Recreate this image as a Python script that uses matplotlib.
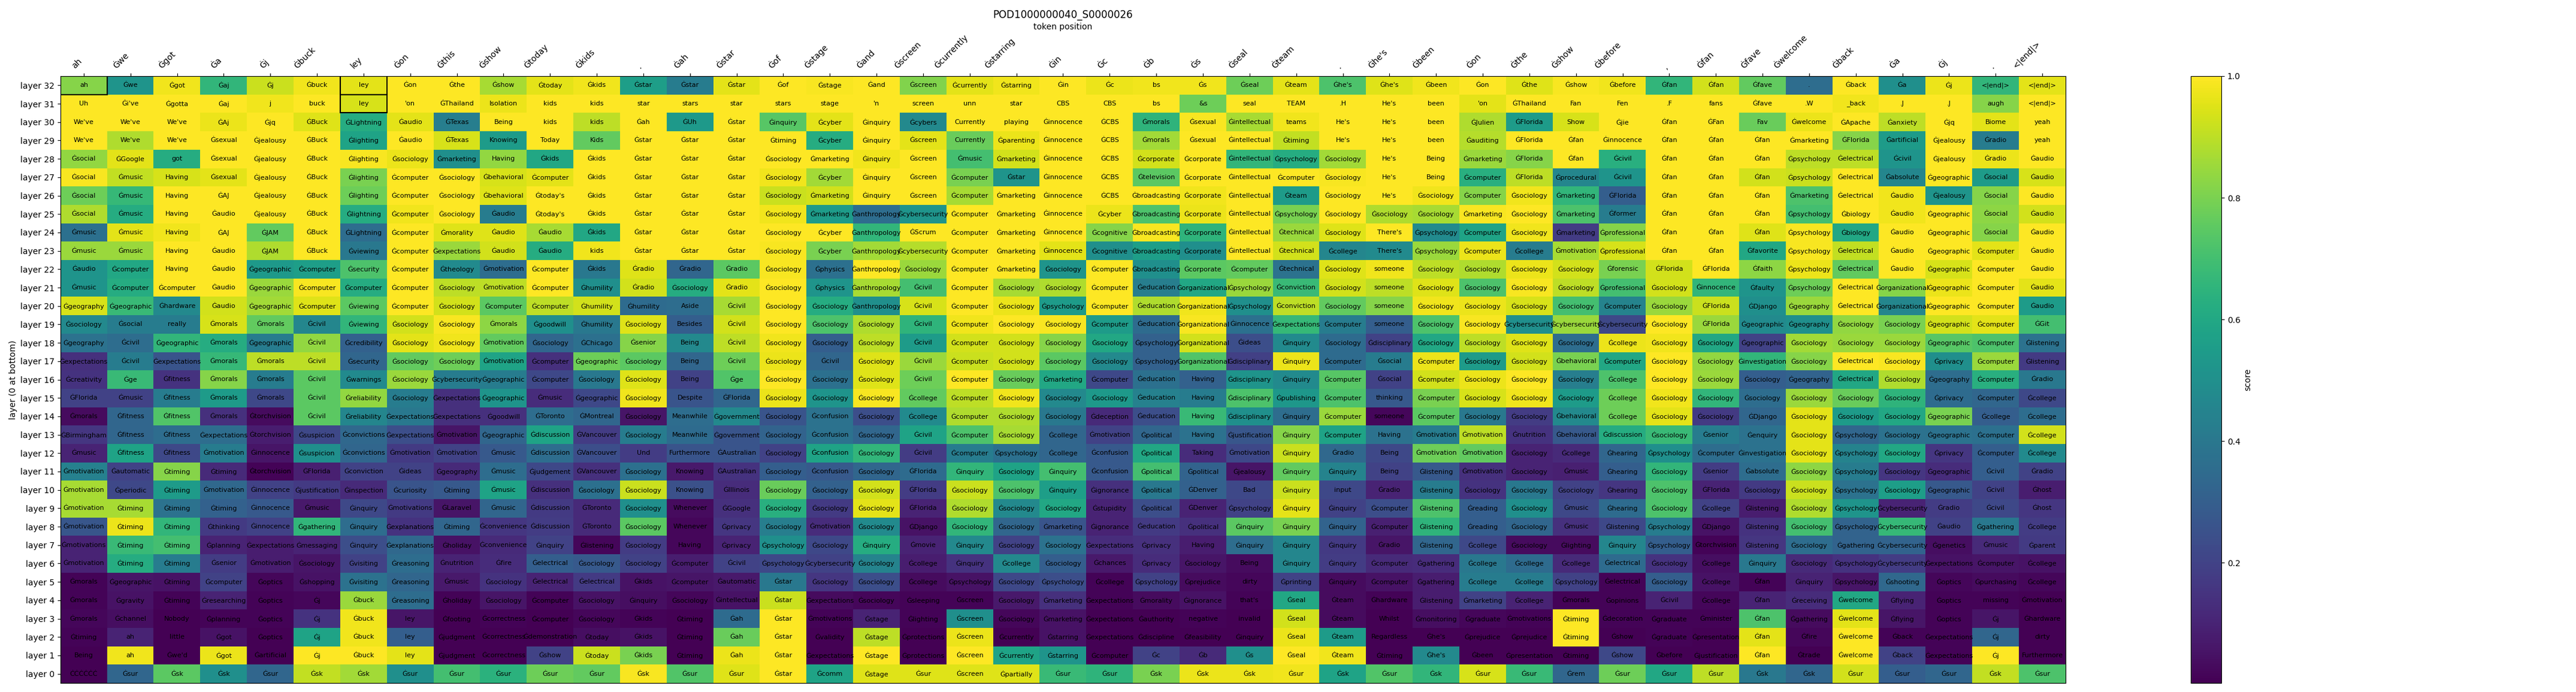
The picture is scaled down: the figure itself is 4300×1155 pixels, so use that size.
"""
Layer-by-layer token lens heatmap for one sample.

Usage:
    python plot.py
"""

import numpy as np
import matplotlib
matplotlib.use("Agg")
import matplotlib.pyplot as plt
from matplotlib.colors import Normalize
from matplotlib.patches import Rectangle

TITLE = "POD1000000040_S0000026"

INPUT_TOKENS = "ah Ġwe Ġgot Ġa Ġj Ġbuck ley Ġon Ġthis Ġshow Ġtoday Ġkids . Ġah Ġstar Ġof Ġstage Ġand Ġscreen Ġcurrently Ġstarring Ġin Ġc Ġb Ġs Ġseal Ġteam . Ġhe's Ġbeen Ġon Ġthe Ġshow Ġbefore , Ġfan Ġfave Ġwelcome Ġback Ġa Ġj . <|end|>".split()

# top token per layer, listed from layer 32 down to layer 0
TOKENS_TOP_DOWN = [
    "ah Ġwe Ġgot Ġaj Ġj Ġbuck ley Ġon Ġthe Ġshow Ġtoday Ġkids Ġstar Ġstar Ġstar Ġof Ġstage Ġand Ġscreen Ġcurrently Ġstarring Ġin Ġc bs Ġs Ġseal Ġteam Ġhe's Ġhe's Ġbeen Ġon Ġthe Ġshow Ġbefore Ġfan Ġfan Ġfave . Ġback Ġa Ġj <|end|> <|end|>",
    "Uh Ġi've Ġgotta Ġaj j buck ley 'on ĠThailand Isolation kids kids star stars star stars stage 'n screen unn star CBS CBS bs &s seal TEAM .H He's been 'on ĠThailand Fan Fen .F fans Ġfave .W _back .J .J augh <|end|>",
    "We've We've We've ĠAj Ġjq ĠBuck ĠLightning Ġaudio ĠTexas Being kids kids Ġah ĠUh Ġstar Ġinquiry Ġcyber Ġinquiry Ġcybers Currently playing Ġinnocence ĠCBS Ġmorals Ġsexual Ġintellectual teams He's He's been ĠJulien ĠFlorida Show Ġjie Ġfan ĠFan Fav Ġwelcome ĠApache Ġanxiety Ġjq Biome yeah",
    "We've We've We've Ġsexual Ġjealousy ĠBuck Ġlighting Ġaudio ĠTexas Knowing Today Kids Ġstar Ġstar Ġstar Ġtiming Ġcyber Ġinquiry Ġscreen Currently Ġparenting Ġinnocence ĠCBS Ġmorals Ġsexual Ġintellectual Ġtiming He's He's been Ġauditing ĠFlorida Ġfan Ġinnocence Ġfan Ġfan Ġfan Ġmarketing ĠFlorida Ġartificial Ġjealousy Ġradio yeah",
    "Ġsocial ĠGoogle got Ġsexual Ġjealousy ĠBuck Ġlighting Ġsociology Ġmarketing Having Ġkids Ġkids Ġstar Ġstar Ġstar Ġsociology Ġmarketing Ġinquiry Ġscreen Ġmusic Ġmarketing Ġinnocence ĠCBS Ġcorporate Ġcorporate Ġintellectual Ġpsychology Ġsociology He's Being Ġmarketing ĠFlorida Ġfan Ġcivil Ġfan Ġfan Ġfan Ġpsychology Ġelectrical Ġcivil Ġjealousy Ġradio Ġaudio",
    "Ġsocial Ġmusic Having Ġsexual Ġjealousy ĠBuck Ġlighting Ġcomputer Ġsociology Ġbehavioral Ġcomputer Ġkids Ġstar Ġstar Ġstar Ġsociology Ġcyber Ġinquiry Ġscreen Ġcomputer Ġstar Ġinnocence ĠCBS Ġtelevision Ġcorporate Ġintellectual Ġcomputer Ġsociology He's Being Ġcomputer ĠFlorida Ġprocedural Ġcivil Ġfan Ġfan Ġfan Ġpsychology Ġelectrical Ġabsolute Ġgeographic Ġsocial Ġaudio",
    "Ġsocial Ġmusic Having ĠAJ Ġjealousy ĠBuck Ġlighting Ġcomputer Ġsociology Ġbehavioral Ġtoday's Ġkids Ġstar Ġstar Ġstar Ġsociology Ġmarketing Ġinquiry Ġscreen Ġcomputer Ġmarketing Ġinnocence ĠCBS Ġbroadcasting Ġcorporate Ġintellectual Ġteam Ġsociology He's Ġsociology Ġcomputer Ġsociology Ġmarketing ĠFlorida Ġfan Ġfan Ġfan Ġmarketing Ġelectrical Ġaudio Ġjealousy Ġsocial Ġaudio",
    "Ġsocial Ġmusic Having Ġaudio Ġjealousy ĠBuck Ġlightning Ġcomputer Ġsociology Ġaudio Ġtoday's Ġkids Ġstar Ġstar Ġstar Ġsociology Ġmarketing Ġanthropology Ġcybersecurity Ġcomputer Ġmarketing Ġinnocence Ġcyber Ġbroadcasting Ġcorporate Ġintellectual Ġpsychology Ġsociology Ġsociology Ġsociology Ġmarketing Ġsociology Ġmarketing Ġformer Ġfan Ġfan Ġfan Ġpsychology Ġbiology Ġaudio Ġgeographic Ġsocial Ġaudio",
    "Ġmusic Ġmusic Having ĠAJ ĠJAM ĠBuck ĠLightning Ġcomputer Ġmorality Ġaudio Ġaudio Ġkids Ġstar Ġstar Ġstar Ġsociology Ġcyber Ġanthropology ĠScrum Ġcomputer Ġmarketing Ġinnocence Ġcognitive Ġbroadcasting Ġcorporate Ġintellectual Ġtechnical Ġsociology There's Ġpsychology Ġcomputer Ġsociology Ġmarketing Ġprofessional Ġfan Ġfan Ġfan Ġpsychology Ġbiology Ġaudio Ġgeographic Ġsocial Ġaudio",
    "Ġmusic Ġmusic Having Ġaudio ĠJAM ĠBuck Ġviewing Ġcomputer Ġexpectations Ġaudio Ġaudio kids Ġstar Ġstar Ġstar Ġsociology Ġcyber Ġanthropology Ġcybersecurity Ġcomputer Ġmarketing Ġinnocence Ġcognitive Ġbroadcasting Ġcorporate Ġintellectual Ġtechnical Ġcollege There's Ġpsychology Ġcomputer Ġcollege Ġmotivation Ġprofessional Ġfan Ġfan Ġfavorite Ġpsychology Ġelectrical Ġaudio Ġgeographic Ġcomputer Ġaudio",
    "Ġaudio Ġcomputer Having Ġaudio Ġgeographic Ġcomputer Ġsecurity Ġcomputer Ġtheology Ġmotivation Ġcomputer Ġkids Ġradio Ġradio Ġradio Ġsociology Ġphysics Ġanthropology Ġsociology Ġcomputer Ġmarketing Ġsociology Ġcomputer Ġbroadcasting Ġcorporate Ġcomputer Ġtechnical Ġsociology someone Ġsociology Ġsociology Ġsociology Ġsociology Ġforensic ĠFlorida ĠFlorida Ġfaith Ġpsychology Ġelectrical Ġaudio Ġgeographic Ġcomputer Ġaudio",
    "Ġmusic Ġcomputer Ġcomputer Ġaudio Ġgeographic Ġcomputer Ġcomputer Ġcomputer Ġsociology Ġmotivation Ġcomputer Ġhumility Ġradio Ġsociology Ġradio Ġsociology Ġphysics Ġanthropology Ġcivil Ġcomputer Ġsociology Ġsociology Ġcomputer Ġeducation Ġorganizational Ġpsychology Ġconviction Ġsociology someone Ġsociology Ġsociology Ġsociology Ġsociology Ġprofessional Ġsociology Ġinnocence Ġfaulty Ġpsychology Ġelectrical Ġorganizational Ġgeographic Ġcomputer Ġaudio",
    "Ġgeography Ġgeographic Ġhardware Ġaudio Ġgeographic Ġcomputer Ġviewing Ġcomputer Ġsociology Ġcomputer Ġcomputer Ġhumility Ġhumility Aside Ġcivil Ġsociology Ġsociology Ġanthropology Ġcivil Ġcomputer Ġsociology Ġpsychology Ġcomputer Ġeducation Ġorganizational Ġpsychology Ġconviction Ġsociology someone Ġsociology Ġsociology Ġsociology Ġsociology Ġcomputer Ġsociology ĠFlorida ĠDjango Ġgeography Ġelectrical Ġorganizational Ġgeographic Ġcomputer Ġaudio",
    "Ġsociology Ġsocial really Ġmorals Ġmorals Ġcivil Ġviewing Ġsociology Ġsociology Ġmorals Ġgoodwill Ġhumility Ġsociology Besides Ġcivil Ġsociology Ġsociology Ġsociology Ġcivil Ġcomputer Ġsociology Ġsociology Ġcomputer Ġeducation Ġorganizational Ġinnocence Ġexpectations Ġcomputer someone Ġsociology Ġsociology Ġcybersecurity Ġcybersecurity Ġcybersecurity Ġsociology ĠFlorida Ġgeographic Ġgeography Ġsociology Ġsociology Ġgeographic Ġcomputer ĠGit",
    "Ġgeography Ġcivil Ġgeographic Ġmorals Ġgeographic Ġcivil Ġcredibility Ġsociology Ġsociology Ġmotivation Ġsociology ĠChicago Ġsenior Being Ġcivil Ġsociology Ġsociology Ġsociology Ġcivil Ġcomputer Ġsociology Ġsociology Ġsociology Ġpsychology Ġorganizational Ġideas Ġinquiry Ġsociology Ġdisciplinary Ġsociology Ġsociology Ġsociology Ġsociology Ġcollege Ġsociology Ġsociology Ġgeographic Ġsociology Ġsociology Ġsociology Ġgeographic Ġcomputer Ġlistening",
    "Ġexpectations Ġcivil Ġexpectations Ġmorals Ġmorals Ġcivil Ġsecurity Ġsociology Ġsociology Ġmotivation Ġcomputer Ġgeographic Ġsociology Being Ġcivil Ġsociology Ġcivil Ġsociology Ġcivil Ġcomputer Ġsociology Ġsociology Ġsociology Ġpsychology Ġorganizational Ġdisciplinary Ġinquiry Ġcomputer Ġsocial Ġcomputer Ġsociology Ġsociology Ġbehavioral Ġcomputer Ġsociology Ġsociology Ġinvestigation Ġsociology Ġelectrical Ġsociology Ġprivacy Ġcomputer Ġlistening",
    "Ġcreativity Ġge Ġfitness Ġmorals Ġmorals Ġcivil Ġwarnings Ġsociology Ġcybersecurity Ġgeographic Ġcomputer Ġsociology Ġsociology Being Ġge Ġsociology Ġsociology Ġsociology Ġcivil Ġcomputer Ġsociology Ġmarketing Ġcomputer Ġeducation Having Ġdisciplinary Ġinquiry Ġcomputer Ġsocial Ġcomputer Ġsociology Ġsociology Ġsociology Ġcollege Ġsociology Ġsociology Ġsociology Ġgeography Ġelectrical Ġsociology Ġgeography Ġcomputer Ġradio",
    "ĠFlorida Ġmusic Ġfitness Ġmorals Ġmorals Ġcivil Ġreliability Ġsociology Ġexpectations Ġgeographic Ġmusic Ġgeographic Ġsociology Despite ĠFlorida Ġsociology Ġsociology Ġsociology Ġcollege Ġcomputer Ġsociology Ġsociology Ġsociology Ġeducation Having Ġdisciplinary Ġpublishing Ġcomputer thinking Ġcomputer Ġsociology Ġsociology Ġsociology Ġcollege Ġsociology Ġsociology Ġsociology Ġsociology Ġsociology Ġsociology Ġprivacy Ġcomputer Ġcollege",
    "Ġmorals Ġfitness Ġfitness Ġmorals Ġtorchvision Ġcivil Ġreliability Ġexpectations Ġexpectations Ġgoodwill ĠToronto ĠMontreal Ġsociology Meanwhile Ġgovernment Ġsociology Ġconfusion Ġsociology Ġcollege Ġcomputer Ġsociology Ġsociology Ġdeception Ġeducation Having Ġdisciplinary Ġinquiry Ġcomputer someone Ġcomputer Ġsociology Ġsociology Ġbehavioral Ġcollege Ġsociology Ġsociology ĠDjango Ġsociology Ġsociology Ġsociology Ġgeographic Ġcollege Ġcollege",
    "ĠBirmingham Ġfitness Ġfitness Ġexpectations Ġtorchvision Ġsuspicion Ġconvictions Ġexpectations Ġmotivation Ġgeographic Ġdiscussion ĠVancouver Ġsociology Meanwhile Ġgovernment Ġsociology Ġconfusion Ġsociology Ġcivil Ġcomputer Ġsociology Ġcollege Ġmotivation Ġpolitical Having Ġjustification Ġinquiry Ġcomputer Having Ġmotivation Ġmotivation Ġnutrition Ġbehavioral Ġdiscussion Ġsociology Ġsenior Ġenquiry Ġsociology Ġpsychology Ġsociology Ġgeographic Ġcomputer Ġcollege",
    "Ġmusic Ġfitness Ġfitness Ġmotivation Ġinnocence Ġsuspicion Ġconvictions Ġmotivation Ġmotivation Ġmusic Ġdiscussion ĠVancouver Und Furthermore ĠAustralian Ġsociology Ġconfusion Ġsociology Ġcivil Ġcomputer Ġpsychology Ġcollege Ġconfusion Ġpolitical Taking Ġmotivation Ġinquiry Ġradio Being Ġmotivation Ġmotivation Ġsociology Ġcollege Ġhearing Ġpsychology Ġcomputer Ġinvestigation Ġsociology Ġpsychology Ġsociology Ġprivacy Ġcomputer Ġcollege",
    "Ġmotivation Ġautomatic Ġtiming Ġtiming Ġtorchvision ĠFlorida Ġconviction Ġideas Ġgeography Ġmusic Ġjudgement ĠVancouver Ġsociology Knowing ĠAustralian Ġsociology Ġconfusion Ġsociology ĠFlorida Ġinquiry Ġsociology Ġinquiry Ġconfusion Ġpolitical Ġpolitical Ġjealousy Ġinquiry Ġinquiry Being Ġlistening Ġmotivation Ġsociology Ġmusic Ġhearing Ġsociology Ġsenior Ġabsolute Ġsociology Ġpsychology Ġsociology Ġgeographic Ġcivil Ġradio",
    "Ġmotivation Ġperiodic Ġtiming Ġmotivation Ġinnocence Ġjustification Ġinspection Ġcuriosity Ġtiming Ġmusic Ġdiscussion Ġsociology Ġsociology Knowing ĠIllinois Ġsociology Ġsociology Ġsociology ĠFlorida Ġsociology Ġsociology Ġinquiry Ġignorance Ġpolitical ĠDenver Bad Ġinquiry input Ġradio Ġlistening Ġsociology Ġsociology Ġsociology Ġhearing Ġsociology ĠFlorida Ġsociology Ġsociology Ġpsychology Ġsociology Ġgeographic Ġcivil Ġhost",
    "Ġmotivation Ġtiming Ġtiming Ġtiming Ġinnocence Ġmusic Ġinquiry Ġmotivations ĠLaravel Ġmusic Ġdiscussion ĠToronto Ġsociology Whenever ĠGoogle Ġsociology Ġsociology Ġsociology ĠFlorida Ġsociology Ġsociology Ġsociology Ġstupidity Ġpolitical ĠDenver Ġpsychology Ġinquiry Ġinquiry Ġcomputer Ġlistening Ġreading Ġsociology Ġmusic Ġhearing Ġsociology Ġcollege Ġlistening Ġsociology Ġpsychology Ġcybersecurity Ġradio Ġcivil Ġhost",
    "Ġmotivation Ġtiming Ġtiming Ġthinking Ġinnocence Ġgathering Ġinquiry Ġexplanations Ġtiming Ġconvenience Ġdiscussion ĠToronto Ġsociology Whenever Ġprivacy Ġsociology Ġmotivation Ġsociology ĠDjango Ġsociology Ġsociology Ġmarketing Ġignorance Ġeducation Ġpolitical Ġinquiry Ġinquiry Ġinquiry Ġcomputer Ġlistening Ġreading Ġsociology Ġmusic Ġlistening Ġpsychology ĠDjango Ġlistening Ġsociology Ġpsychology Ġcybersecurity Ġaudio Ġgathering Ġcollege",
    "Ġmotivations Ġtiming Ġtiming Ġplanning Ġexpectations Ġmessaging Ġinquiry Ġexplanations Ġholiday Ġconvenience Ġinquiry Ġlistening Ġsociology Having Ġprivacy Ġpsychology Ġsociology Ġinquiry Ġmovie Ġinquiry Ġsociology Ġsociology Ġexpectations Ġprivacy Having Ġinquiry Ġinquiry Ġinquiry Ġradio Ġlistening Ġcollege Ġsociology Ġlighting Ġinquiry Ġpsychology Ġtorchvision Ġlistening Ġsociology Ġgathering Ġcybersecurity Ġgenetics Ġmusic Ġparent",
    "Ġmotivation Ġtiming Ġtiming Ġsenior Ġmotivation Ġsociology Ġvisiting Ġreasoning Ġnutrition Ġfire Ġelectrical Ġsociology Ġsociology Ġcomputer Ġcivil Ġpsychology Ġcybersecurity Ġsociology Ġcollege Ġinquiry Ġcollege Ġsociology Ġchances Ġprivacy Ġsociology Being Ġinquiry Ġinquiry Ġcomputer Ġgathering Ġcollege Ġcollege Ġcollege Ġelectrical Ġsociology Ġcollege Ġinquiry Ġsociology Ġpsychology Ġcybersecurity Ġexpectations Ġcomputer Ġcollege",
    "Ġmorals Ġgeographic Ġtiming Ġcomputer Ġoptics Ġshopping Ġvisiting Ġreasoning Ġmusic Ġsociology Ġelectrical Ġelectrical Ġkids Ġcomputer Ġautomatic Ġstar Ġsociology Ġsociology Ġcollege Ġpsychology Ġsociology Ġpsychology Ġcollege Ġpsychology Ġprejudice dirty Ġprinting Ġinquiry Ġcomputer Ġgathering Ġcollege Ġcollege Ġpsychology Ġelectrical Ġsociology Ġcollege Ġfan Ġinquiry Ġpsychology Ġshooting Ġoptics Ġpurchasing Ġcollege",
    "Ġmorals Ġgravity Ġtiming Ġresearching Ġoptics Ġj Ġbuck Ġreasoning Ġholiday Ġsociology Ġcomputer Ġsociology Ġinquiry Ġsociology Ġintellectual Ġstar Ġexpectations Ġsociology Ġsleeping Ġscreen Ġsociology Ġmarketing Ġexpectations Ġmorality Ġignorance that's Ġseal Ġteam Ġhardware Ġlistening Ġmarketing Ġcollege Ġmorals Ġopinions Ġcivil Ġcollege Ġfan Ġreceiving Ġwelcome Ġflying Ġoptics missing Ġmotivation",
    "Ġmorals Ġchannel Nobody Ġplanning Ġoptics Ġj Ġbuck ley Ġfooting Ġcorrectness Ġcomputer Ġsociology Ġkids Ġtiming Ġah Ġstar Ġmotivations Ġstage Ġlighting Ġscreen Ġsociology Ġmarketing Ġexpectations Ġauthority negative invalid Ġseal Ġteam Whilst Ġmonitoring Ġgraduate Ġmotivations Ġtiming Ġdecoration Ġgraduate Ġminister Ġfan Ġgathering Ġwelcome Ġflying Ġoptics Ġj Ġhardware",
    "Ġtiming ah little Ġgot Ġoptics Ġj Ġbuck ley Ġjudgment Ġcorrectness Ġdemonstration Ġtoday Ġkids Ġtiming Ġah Ġstar Ġvalidity Ġstage Ġprotections Ġscreen Ġcurrently Ġstarring Ġexpectations Ġdiscipline Ġfeasibility Ġinquiry Ġseal Ġteam Regardless Ġhe's Ġprejudice Ġprejudice Ġtiming Ġshow Ġgraduate Ġpresentation Ġfan Ġfire Ġwelcome Ġback Ġexpectations Ġj dirty",
    "Being ah Ġwe'd Ġgot Ġartificial Ġj Ġbuck ley Ġjudgment Ġcorrectness Ġshow Ġtoday Ġkids Ġtiming Ġah Ġstar Ġexpectations Ġstage Ġprotections Ġscreen Ġcurrently Ġstarring Ġcomputer Ġc Ġb Ġs Ġseal Ġteam Ġtiming Ġhe's Ġbeen Ġpresentation Ġtiming Ġshow Ġbefore Ġjustification Ġfan Ġtrade Ġwelcome Ġback Ġexpectations Ġj Furthermore",
    "ĊĊĊĊĊĊ Ġsur Ġsk Ġsk Ġsur Ġsk Ġsk Ġsur Ġsur Ġsur Ġsur Ġsur Ġsk Ġsur Ġsur Ġstar Ġcomm Ġstage Ġsur Ġscreen Ġpartially Ġsur Ġsur Ġsk Ġsk Ġsk Ġsur Ġsk Ġsur Ġsk Ġsur Ġsur Ġrem Ġsur Ġsur Ġsur Ġsk Ġsk Ġsur Ġsur Ġsur Ġsk Ġsur",
]

# matching scores, same order
SCORES_TOP_DOWN = [
    [.82, .52, .98, .66, .92, .98, .96, 1, 1, .87, .96, .98, .56, .42, .96, 1, .99, 1, .81, .96, .98, 1, .97, .98, .98, .78, .96, .72, .95, .98, 1, .95, .99, .98, .66, .93, .76, .36, 1, .5, .97, .66, .96],
    [1, 1, 1, 1, .98, 1, .94, 1, 1, .97, 1, 1, 1, 1, 1, 1, 1, 1, 1, 1, 1, 1, 1, 1, .78, 1, 1, 1, 1, 1, .96, 1, 1, 1, 1, 1, 1, 1, .98, 1, 1, .82, 1],
    [1, 1, 1, .97, 1, .95, .62, .96, .43, 1, 1, .9, 1, .54, 1, .74, .96, 1, .47, 1, 1, 1, 1, .65, .99, .87, .98, 1, 1, 1, .88, .55, .94, 1, 1, 1, .77, .97, 1, .9, 1, .96, 1],
    [1, .88, 1, 1, 1, 1, .58, 1, .94, .55, 1, .76, 1, 1, 1, 1, .62, 1, .96, .77, .97, 1, 1, .86, 1, 1, .91, 1, 1, 1, .89, 1, 1, 1, 1, 1, 1, 1, .82, .55, 1, .42, 1],
    [.84, .96, .62, 1, 1, 1, .99, .97, .5, .84, .6, 1, 1, 1, 1, 1, 1, .98, 1, .7, .93, 1, 1, .93, 1, .66, .62, .86, 1, 1, .85, .82, 1, .63, 1, 1, 1, .9, .9, .52, 1, .97, 1],
    [.99, .91, .94, .96, 1, 1, .8, 1, 1, .94, .96, 1, 1, 1, 1, .98, .86, 1, 1, .8, .52, 1, 1, .75, 1, 1, 1, .99, 1, 1, .63, .9, .46, .52, 1, 1, .93, .92, 1, .46, 1, .55, .94],
    [.78, .67, 1, 1, 1, 1, .78, 1, 1, .95, 1, 1, 1, 1, 1, .92, .93, 1, 1, .87, 1, 1, 1, 1, .98, 1, .55, 1, 1, .98, .82, .98, .66, .3, 1, 1, 1, .72, 1, .98, .52, .82, 1],
    [.88, .62, 1, 1, 1, 1, .62, .98, 1, .42, 1, 1, 1, 1, 1, .98, .55, .36, .52, 1, 1, 1, .97, .72, .97, 1, .8, 1, .88, .87, .99, 1, .72, .42, 1, 1, 1, .7, 1, .98, 1, .83, .93],
    [.37, .96, .98, 1, .76, 1, .36, 1, .95, .95, .87, .6, 1, 1, 1, 1, 1, .66, 1, 1, 1, 1, .82, .99, .65, 1, .85, .95, 1, .48, .58, .98, .18, .82, 1, 1, .95, .99, .6, 1, 1, .82, 1],
    [.85, .85, 1, 1, .88, 1, .4, 1, .85, .93, .62, .98, 1, 1, 1, .99, .8, .86, .89, 1, 1, .96, .5, .56, .5, 1, .93, .46, .48, .85, .97, .42, .87, .94, 1, 1, .6, .99, .91, 1, 1, .96, 1],
    [.52, .6, 1, 1, .54, .56, .72, 1, .48, .36, 1, .4, .95, .33, .75, .99, .37, 1, .85, 1, 1, .52, 1, .5, .75, .76, .38, .95, .98, .9, .88, .97, .93, .8, .93, 1, .83, .97, .76, 1, .94, 1, 1],
    [.52, .62, 1, 1, .85, .99, .62, 1, .9, .9, 1, .5, .93, .62, .96, 1, .52, .87, .7, 1, .87, .88, 1, .43, .6, .85, .68, .93, .9, .95, .72, .99, .9, .7, .93, .66, .52, .78, 1, .82, .97, 1, .96],
    [.94, .68, .47, .93, .86, .95, .75, 1, .93, .75, .9, .93, .35, .36, .87, 1, .62, .5, .94, 1, .97, .55, 1, .88, .98, .5, .9, .76, .82, .98, .97, .94, .7, .45, .85, .92, .5, .85, 1, .46, 1, 1, .55],
    [.47, .42, .42, .94, .76, .46, .66, .93, .99, .83, .5, .4, .95, .3, .93, 1, .72, .88, .65, .98, 1, .99, .55, .35, .99, .37, .67, .42, .3, .72, .99, .5, .85, .22, 1, .85, .48, .5, .84, .8, .93, .96, .7],
    [.38, .36, .66, .62, .42, .84, .31, .96, .98, .76, .33, .37, .82, .47, .9, .98, .3, .9, .55, .93, .93, .82, .6, .31, .93, .24, .48, .35, .2, .6, .9, .95, .36, .97, .98, .6, .2, .86, .85, .85, .74, .72, .38],
    [.14, .42, .26, .67, .9, .9, .33, .76, .78, .58, .14, .78, .75, .33, .78, .97, .33, .95, .85, .92, .93, .75, .47, .31, .73, .19, .97, .35, .42, .97, .55, .93, .8, .6, 1, .84, .66, .82, 1, .99, .5, .85, .17],
    [.15, .68, .15, .82, .42, .75, .48, .85, .42, .42, .22, .4, .95, .2, .73, 1, .37, .95, .78, 1, .77, .6, .22, .37, .31, .52, .48, .74, .2, .93, .97, 1, .43, .72, 1, .85, .3, .32, .6, .88, .36, .63, .4],
    [.2, .2, .42, .55, .22, .75, .84, .42, .14, .52, .13, .22, .98, .26, .33, .97, .52, .99, .76, .9, .98, .47, .54, .44, .42, .72, .53, .72, .28, .8, .94, .98, .55, .78, .98, .66, .36, .85, .77, .65, .35, .33, .22],
    [.03, .33, .73, .14, .03, .75, .46, .4, .14, .14, .36, .33, .06, .36, .47, .26, .38, .24, .48, .88, .88, .4, .12, .24, .68, .5, .36, .85, .02, .75, .4, .18, .47, .78, .96, .17, .33, .96, .55, .6, .8, .3, .36],
    [.16, .33, .36, .36, .08, .22, .34, .24, .06, .33, .58, .18, .42, .35, .26, .32, .38, .33, .58, .72, .87, .33, .2, .33, .38, .27, .82, .58, .38, .42, .9, .15, .28, .62, .68, .42, .38, .96, .33, .38, .38, .37, .93],
    [.1, .58, .22, .42, .06, .5, .33, .17, .2, .28, .36, .24, .18, .26, .26, .2, .58, .66, .18, .42, .37, .33, .28, .6, .13, .22, .92, .34, .22, .78, .76, .1, .12, .33, .5, .36, .38, .96, .45, .6, .16, .3, .48],
    [.44, .2, .82, .12, .01, .09, .2, .2, .12, .36, .22, .14, .37, .07, .15, .3, .28, .33, .35, .66, .58, .7, .28, .7, .32, .06, .76, .45, .2, .28, .14, .1, .09, .3, .66, .18, .36, .83, .42, .16, .13, .3, .2],
    [.87, .22, .55, .34, .2, .17, .12, .26, .28, .58, .14, .37, .92, .25, .13, .77, .31, .93, .18, .92, .72, .56, .14, .4, .31, .22, .92, .22, .1, .42, .15, .4, .2, .16, .72, .1, .17, .92, .38, .56, .28, .2, .08],
    [.87, .87, .38, .31, .28, .07, .22, .17, .06, .33, .17, .12, .5, .03, .14, .63, .17, .96, .1, .88, .47, .6, .1, .24, .1, .2, .96, .2, .24, .72, .3, .5, .22, .35, .72, .2, .08, .88, .52, .1, .18, .22, .16],
    [.27, .97, .66, .17, .2, .66, .36, .15, .33, .16, .18, .12, .75, .02, .16, .43, .13, .48, .05, .66, .33, .26, .1, .17, .14, .75, .8, .32, .09, .65, .3, .33, .14, .22, .42, .05, .15, .7, .32, .67, .2, .4, .18],
    [.1, .68, .7, .1, .08, .1, .24, .34, .05, .12, .2, .02, .18, .02, .1, .5, .22, .62, .1, .47, .2, .38, .13, .14, .08, .36, .46, .17, .06, .33, .22, .03, .03, .46, .3, .01, .16, .36, .32, .32, .04, .12, .17],
    [.1, .62, .42, .18, .08, .06, .2, .36, .1, .13, .3, .28, .2, .08, .2, .22, .2, .45, .08, .15, .47, .3, .07, .13, .06, .03, .46, .18, .12, .13, .4, .35, .12, .35, .15, .04, .4, .12, .15, .18, .05, .06, .05],
    [.01, .06, .05, .2, .02, .05, .38, .33, .07, .15, .1, .17, .05, .06, .07, .4, .16, .24, .03, .05, .22, .24, .01, .2, .03, .02, .2, .03, .05, .08, .42, .42, .2, .01, .3, .05, .01, .1, .06, .34, .02, .03, .02],
    [.01, .05, .01, .1, .01, .02, .85, .36, .01, .06, .01, .05, .04, .02, .05, .92, .03, .02, .01, .01, .07, .14, .01, .03, .05, .01, .6, .03, .01, .08, .2, .1, .01, .01, .1, .02, .1, .13, .6, .1, .01, .01, .0],
    [.02, .04, .0, .01, .01, .15, .98, .06, .0, .01, .0, .02, .01, .0, .35, 1, .01, .1, .01, .5, .02, .05, .0, .0, .01, .0, .93, .03, .0, .04, .02, .01, 1, .01, .01, .01, .72, .03, .96, .06, .01, .06, .0],
    [.01, .1, .0, .05, .0, .58, .98, .3, .0, .0, .0, .04, .05, .0, .77, 1, .0, .9, .0, .97, .0, .05, .0, .0, .0, .0, .97, .55, .0, .0, .0, .0, 1, .0, .01, .0, .96, .02, 1, .01, .01, .33, .0],
    [.0, .98, .0, .97, .0, 1, 1, .96, .0, .0, .2, .92, .8, .0, .97, 1, .0, 1, .0, 1, .58, .52, .0, .2, .12, .5, 1, .98, .0, .47, .0, .0, .0, .22, .0, .0, 1, .0, 1, .2, .01, 1, .0],
    [.0, .33, .75, .5, .33, .91, .86, .5, .7, .64, .78, .76, .99, .73, .95, 1, .58, .95, .95, .95, .95, .68, .65, .8, .97, .97, .98, .58, .73, .66, .94, .68, .33, .78, .6, .9, .4, .33, .93, .3, .33, .91, .72],
]

# (layer, token index) of the boxed cells
BOXED_CELLS = [(32, 0), (32, 6), (31, 6)]

FIG_W_PX, FIG_H_PX = 4300, 1155


def px_rect(left, top, right, bottom):
    """Axes rectangle in figure fractions from pixel edges."""
    return [left / FIG_W_PX, 1 - bottom / FIG_H_PX, (right - left) / FIG_W_PX, (bottom - top) / FIG_H_PX]


def main():
    tokens = [row.split() for row in TOKENS_TOP_DOWN][::-1]
    scores = np.array(SCORES_TOP_DOWN[::-1], dtype=float)
    n_layers, n_tokens = scores.shape
    for layer, row in enumerate(tokens):
        assert len(row) == n_tokens, (layer, len(row))

    fig = plt.figure(figsize=(FIG_W_PX / 100, FIG_H_PX / 100), dpi=100)
    ax = fig.add_axes(px_rect(101, 127, 3448, 1140))
    cax = fig.add_axes(px_rect(3657, 127, 3708, 1140))

    # vmin sits just above zero, the reference colorbar has no 0.0 tick
    im = ax.imshow(scores, aspect="auto", origin="lower", cmap="viridis", norm=Normalize(vmin=0.002, vmax=1.0))

    for layer in range(n_layers):
        for pos in range(n_tokens):
            ax.text(pos, layer, tokens[layer][pos], ha="center", va="center", fontsize=8, color="black")

    for layer, pos in BOXED_CELLS:
        ax.add_patch(Rectangle((pos - 0.5, layer - 0.5), 1, 1, fill=False, edgecolor="black", linewidth=1.5))

    ax.set_yticks(range(n_layers))
    ax.set_yticklabels([f"layer {i}" for i in range(n_layers)])
    ax.set_ylabel("layer (0 at bottom)")

    ax.xaxis.tick_top()
    ax.xaxis.set_label_position("top")
    ax.set_xticks(range(n_tokens))
    ax.set_xticklabels(INPUT_TOKENS, rotation=45, ha="right")
    ax.set_xlabel("token position")
    ax.set_title(TITLE)

    cbar = fig.colorbar(im, cax=cax)
    cbar.set_ticks([0.2, 0.4, 0.6, 0.8, 1.0])
    cbar.set_label("score")

    fig.savefig("out.png", dpi=100, facecolor="white")
    plt.close(fig)
    print("Saved: out.png")


if __name__ == "__main__":
    main()
